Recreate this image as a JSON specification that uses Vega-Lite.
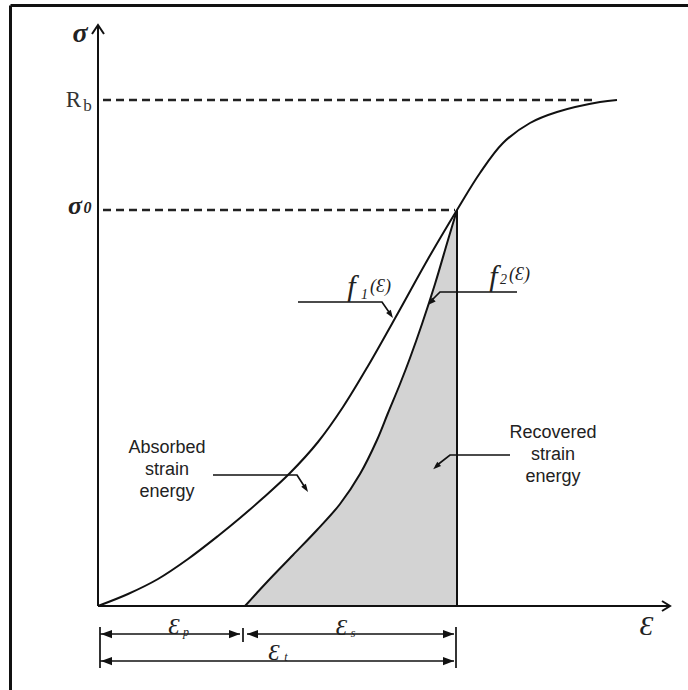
{
  "$schema": "https://vega.github.io/schema/vega-lite/v6.json",
  "width": 688,
  "height": 690,
  "autosize": {"type": "none"},
  "padding": 0,
  "background": "white",
  "config": {"view": {"stroke": null}},
  "datasets": {
    "f1": [
      {"e": 0, "s": 0}, {"e": 30, "s": 12}, {"e": 60, "s": 27}, {"e": 90, "s": 47},
      {"e": 120, "s": 70}, {"e": 142, "s": 88}, {"e": 165, "s": 108}, {"e": 192, "s": 133},
      {"e": 220, "s": 164}, {"e": 245, "s": 199}, {"e": 270, "s": 240}, {"e": 300, "s": 293},
      {"e": 330, "s": 347}, {"e": 359, "s": 396}, {"e": 382, "s": 433},
      {"e": 405, "s": 463}, {"e": 432, "s": 483}, {"e": 459, "s": 494}, {"e": 502, "s": 504},
      {"e": 519, "s": 506}
    ],
    "f2": [
      {"e": 147, "s": 0, "e2": 359}, {"e": 157, "s": 11, "e2": 359}, {"e": 169, "s": 24, "e2": 359},
      {"e": 195, "s": 51, "e2": 359}, {"e": 219, "s": 76, "e2": 359}, {"e": 242, "s": 102, "e2": 359},
      {"e": 262, "s": 132, "e2": 359}, {"e": 279, "s": 166, "e2": 359}, {"e": 290, "s": 193, "e2": 359},
      {"e": 302, "s": 222, "e2": 359}, {"e": 312, "s": 248, "e2": 359}, {"e": 324, "s": 282, "e2": 359},
      {"e": 337, "s": 322, "e2": 359}, {"e": 350, "s": 366, "e2": 359}, {"e": 359, "s": 396, "e2": 359}
    ],
    "solid": [
      {"id": "yaxis", "k": 1, "e": 0, "s": 0}, {"id": "yaxis", "k": 2, "e": 0, "s": 581},
      {"id": "yarrow", "k": 1, "e": -6, "s": 572}, {"id": "yarrow", "k": 2, "e": 0, "s": 581}, {"id": "yarrow", "k": 3, "e": 6, "s": 572},
      {"id": "xaxis", "k": 1, "e": 0, "s": 0}, {"id": "xaxis", "k": 2, "e": 572, "s": 0},
      {"id": "xarrow", "k": 1, "e": 564, "s": 5}, {"id": "xarrow", "k": 2, "e": 572, "s": 0}, {"id": "xarrow", "k": 3, "e": 564, "s": -5},
      {"id": "vert", "k": 1, "e": 359, "s": 0}, {"id": "vert", "k": 2, "e": 359, "s": 396}
    ],
    "thin": [
      {"id": "tickL", "k": 1, "e": 2, "s": -21}, {"id": "tickL", "k": 2, "e": 2, "s": -62},
      {"id": "tickM", "k": 1, "e": 145, "s": -22}, {"id": "tickM", "k": 2, "e": 145, "s": -36},
      {"id": "tickR", "k": 1, "e": 358, "s": -21}, {"id": "tickR", "k": 2, "e": 358, "s": -62},
      {"id": "ep", "k": 1, "e": 2, "s": -28}, {"id": "ep", "k": 2, "e": 142, "s": -28},
      {"id": "es", "k": 1, "e": 149, "s": -28}, {"id": "es", "k": 2, "e": 356, "s": -28},
      {"id": "et", "k": 1, "e": 2, "s": -55}, {"id": "et", "k": 2, "e": 356, "s": -55},
      {"id": "abs", "k": 1, "e": 115, "s": 131}, {"id": "abs", "k": 2, "e": 199, "s": 131}, {"id": "abs", "k": 3, "e": 208, "s": 117},
      {"id": "rec", "k": 1, "e": 412, "s": 151}, {"id": "rec", "k": 2, "e": 352, "s": 151}, {"id": "rec", "k": 3, "e": 338, "s": 140},
      {"id": "lf1", "k": 1, "e": 200, "s": 304}, {"id": "lf1", "k": 2, "e": 284, "s": 304}, {"id": "lf1", "k": 3, "e": 293, "s": 291},
      {"id": "lf2", "k": 1, "e": 419, "s": 314}, {"id": "lf2", "k": 2, "e": 342, "s": 314}, {"id": "lf2", "k": 3, "e": 332, "s": 304}
    ],
    "frame": [
      {"id": "top", "k": 1, "e": -87.5, "s": 600.5}, {"id": "top", "k": 2, "e": 590, "s": 600.5},
      {"id": "left", "k": 1, "e": -87.5, "s": 600.5}, {"id": "left", "k": 2, "e": -87.5, "s": -84}
    ],
    "dashed": [
      {"id": "Rb", "k": 1, "e": 5, "s": 506}, {"id": "Rb", "k": 2, "e": 494, "s": 506},
      {"id": "s0", "k": 1, "e": 5, "s": 396}, {"id": "s0", "k": 2, "e": 357, "s": 396}
    ],
    "dimHeads": [
      {"dir": "left", "e": 8.5, "s": -28}, {"dir": "right", "e": 136.5, "s": -28},
      {"dir": "left", "e": 154.5, "s": -28}, {"dir": "right", "e": 350.5, "s": -28},
      {"dir": "left", "e": 8.5, "s": -55}, {"dir": "right", "e": 350.5, "s": -55}
    ],
    "leaderHeads": [
      {"dir": "dr", "e": 207.8, "s": 117.4}, {"dir": "dr", "e": 292.7, "s": 291.3},
      {"dir": "dl", "e": 338.2, "s": 139.5}, {"dir": "dl", "e": 332.8, "s": 303.8}
    ],
    "dimE": [
      {"t": "Ɛ", "e": 76, "s": -20.5}, {"t": "Ɛ", "e": 243.5, "s": -21.5}, {"t": "Ɛ", "e": 176, "s": -46.5}
    ],
    "dimSub": [
      {"t": "p", "e": 88, "s": -26}, {"t": "s", "e": 255, "s": -27}, {"t": "t", "e": 188, "s": -51}
    ],
    "axisE": [{"t": "Ɛ", "e": 548.5, "s": -21}],
    "fText": [{"t": "f", "e": 253.5, "s": 319}, {"t": "f", "e": 395.5, "s": 329.5}],
    "fSub": [{"t": "1", "e": 266.5, "s": 311}, {"t": "2", "e": 405.5, "s": 326}],
    "fArg": [{"t": "(Ɛ)", "e": 272, "s": 319}, {"t": "(Ɛ)", "e": 411, "s": 331}],
    "sigmaTop": [{"t": "σ", "e": -18, "s": 572}],
    "sigma0": [{"t": "σ", "e": -23, "s": 400}],
    "sub0": [{"t": "0", "e": -10.5, "s": 398}],
    "R": [{"t": "R", "e": -24.5, "s": 506}],
    "b": [{"t": "b", "e": -10.5, "s": 500}],
    "notes": [
      {"t": "Absorbed", "e": 69, "s": 158}, {"t": "strain", "e": 69, "s": 136}, {"t": "energy", "e": 69, "s": 114},
      {"t": "Recovered", "e": 455, "s": 173}, {"t": "strain", "e": 455, "s": 151}, {"t": "energy", "e": 455, "s": 129}
    ]
  },
  "encoding": {
    "x": {"field": "e", "type": "quantitative", "scale": {"domain": [-98, 590], "nice": false, "zero": false}, "axis": null},
    "y": {"field": "s", "type": "quantitative", "scale": {"domain": [-84, 606], "nice": false, "zero": false}, "axis": null}
  },
  "layer": [
    {
      "data": {"name": "f2"},
      "mark": {"type": "area", "orient": "horizontal", "interpolate": "catmull-rom", "color": "#d3d3d3"},
      "encoding": {
        "x": {"field": "e", "type": "quantitative", "stack": null, "scale": {"domain": [-98, 590], "nice": false, "zero": false}, "axis": null},
        "x2": {"field": "e2"}
      }
    },
    {"data": {"name": "f1"}, "mark": {"type": "line", "interpolate": "catmull-rom", "color": "#111", "strokeWidth": 2}},
    {"data": {"name": "f2"}, "mark": {"type": "line", "interpolate": "catmull-rom", "color": "#111", "strokeWidth": 2}},
    {
      "data": {"name": "solid"},
      "mark": {"type": "line", "color": "#111", "strokeWidth": 2},
      "encoding": {"detail": {"field": "id"}, "order": {"field": "k", "type": "quantitative"}}
    },
    {
      "data": {"name": "thin"},
      "mark": {"type": "line", "color": "#111", "strokeWidth": 1.7},
      "encoding": {"detail": {"field": "id"}, "order": {"field": "k", "type": "quantitative"}}
    },
    {
      "data": {"name": "frame"},
      "mark": {"type": "line", "color": "#111", "strokeWidth": 3},
      "encoding": {"detail": {"field": "id"}, "order": {"field": "k", "type": "quantitative"}}
    },
    {
      "data": {"name": "dashed"},
      "mark": {"type": "line", "color": "#222", "strokeWidth": 2.5, "strokeDash": [8, 5]},
      "encoding": {"detail": {"field": "id"}, "order": {"field": "k", "type": "quantitative"}}
    },
    {
      "data": {"name": "dimHeads"},
      "transform": [{"filter": "datum.dir === 'right'"}],
      "mark": {"type": "point", "shape": "M0,-1L0.75,1L-0.75,1Z", "angle": 90, "size": 121, "filled": true, "color": "#111", "opacity": 1}
    },
    {
      "data": {"name": "dimHeads"},
      "transform": [{"filter": "datum.dir === 'left'"}],
      "mark": {"type": "point", "shape": "M0,-1L0.75,1L-0.75,1Z", "angle": 270, "size": 121, "filled": true, "color": "#111", "opacity": 1}
    },
    {
      "data": {"name": "leaderHeads"},
      "transform": [{"filter": "datum.dir === 'dr'"}],
      "mark": {"type": "point", "shape": "M0,-1L0.7,1L-0.7,1Z", "angle": 146, "size": 64, "filled": true, "color": "#111", "opacity": 1}
    },
    {
      "data": {"name": "leaderHeads"},
      "transform": [{"filter": "datum.dir === 'dl'"}],
      "mark": {"type": "point", "shape": "M0,-1L0.7,1L-0.7,1Z", "angle": 228, "size": 64, "filled": true, "color": "#111", "opacity": 1}
    },
    {
      "data": {"name": "dimE"},
      "mark": {"type": "text", "font": "Liberation Serif", "fontStyle": "italic", "fontSize": 23, "color": "#222", "baseline": "middle", "align": "center"},
      "encoding": {"text": {"field": "t"}}
    },
    {
      "data": {"name": "dimSub"},
      "mark": {"type": "text", "font": "Liberation Serif", "fontStyle": "italic", "fontSize": 12, "color": "#222", "baseline": "middle", "align": "center"},
      "encoding": {"text": {"field": "t"}}
    },
    {
      "data": {"name": "axisE"},
      "mark": {"type": "text", "font": "Liberation Serif", "fontStyle": "italic", "fontSize": 28, "color": "#222", "baseline": "middle", "align": "center"},
      "encoding": {"text": {"field": "t"}}
    },
    {
      "data": {"name": "fText"},
      "mark": {"type": "text", "font": "Liberation Serif", "fontStyle": "italic", "fontSize": 30, "color": "#222", "baseline": "middle", "align": "center"},
      "encoding": {"text": {"field": "t"}}
    },
    {
      "data": {"name": "fSub"},
      "mark": {"type": "text", "font": "Liberation Serif", "fontStyle": "italic", "fontSize": 14, "color": "#222", "baseline": "middle", "align": "center"},
      "encoding": {"text": {"field": "t"}}
    },
    {
      "data": {"name": "fArg"},
      "mark": {"type": "text", "font": "Liberation Serif", "fontStyle": "italic", "fontSize": 18, "color": "#222", "baseline": "middle", "align": "left"},
      "encoding": {"text": {"field": "t"}}
    },
    {
      "data": {"name": "sigmaTop"},
      "mark": {"type": "text", "font": "Liberation Serif", "fontStyle": "italic", "fontWeight": "bold", "fontSize": 28, "color": "#222", "baseline": "middle", "align": "center"},
      "encoding": {"text": {"field": "t"}}
    },
    {
      "data": {"name": "sigma0"},
      "mark": {"type": "text", "font": "Liberation Serif", "fontStyle": "italic", "fontWeight": "bold", "fontSize": 26, "color": "#222", "baseline": "middle", "align": "center"},
      "encoding": {"text": {"field": "t"}}
    },
    {
      "data": {"name": "sub0"},
      "mark": {"type": "text", "font": "Liberation Serif", "fontStyle": "italic", "fontWeight": "bold", "fontSize": 16, "color": "#222", "baseline": "middle", "align": "center"},
      "encoding": {"text": {"field": "t"}}
    },
    {
      "data": {"name": "R"},
      "mark": {"type": "text", "font": "Liberation Serif", "fontSize": 23, "color": "#333", "baseline": "middle", "align": "center"},
      "encoding": {"text": {"field": "t"}}
    },
    {
      "data": {"name": "b"},
      "mark": {"type": "text", "font": "Liberation Serif", "fontSize": 17, "color": "#333", "baseline": "middle", "align": "center"},
      "encoding": {"text": {"field": "t"}}
    },
    {
      "data": {"name": "notes"},
      "mark": {"type": "text", "font": "Liberation Sans", "fontSize": 18, "color": "#222", "baseline": "middle", "align": "center"},
      "encoding": {"text": {"field": "t"}}
    }
  ]
}
